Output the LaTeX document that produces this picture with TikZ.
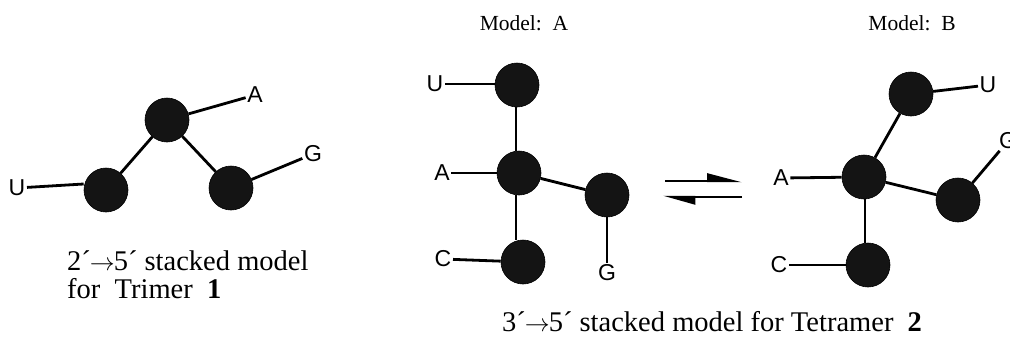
\documentclass[tikz,border=0pt]{standalone}
\usepackage{fontspec}
\setmainfont{Liberation Serif}
\newfontfamily\labelfont{Liberation Sans}
\usetikzlibrary{arrows.meta}
\begin{document}
\begin{tikzpicture}[x=1pt,y=-1pt,
  bead/.style={circle,fill=black!92,draw=black,line width=0.6pt,minimum size=44pt,inner sep=0pt},
  base/.style={font=\labelfont\fontsize{23}{23}\selectfont,inner sep=1.5pt},
  bond/.style={line width=2.8pt},
  captext/.style={font=\fontsize{28.5}{30}\selectfont,align=left,inner sep=0pt},
  mtitle/.style={font=\fontsize{21.5}{22}\selectfont},
  eq/.style={line width=2.4pt}]
\useasboundingbox (0,0) rectangle (1010,338);
% Trimer 1
\node[bead] (t1) at (167,120) {};
\node[bead] (t2) at (106,190) {};
\node[bead] (t3) at (231,188) {};
\node[base] (tA) at (255,95) {A};
\node[base] (tG) at (313,154) {G};
\node[base] (tU) at (17,188) {U};
\draw[bond] (t1) -- (t2);
\draw[bond] (t1) -- (t3);
\draw[bond] (t1) -- (tA);
\draw[bond] (t3) -- (tG);
\draw[bond] (t2.west) ++(0,-6) coordinate (t2w) (tU) -- (t2w);
\node[captext,anchor=base west] (cap1a) at (67,270) {2´\kern-1pt$\rightarrow$\kern-1pt5´ stacked model};
\node[captext,anchor=base west] (cap1b) at (67,298) {for\ \ Trimer\ \ \textbf{1}};
% Model A
\node[mtitle] (mA) at (524,23) {Model:\ \ A};
\node[bead] (aU) at (517,85) {};
\node[bead] (aA) at (519,173) {};
\node[bead] (aG) at (607,195) {};
\node[bead] (aC) at (523,262) {};
\node[base] (lU) at (435,84) {U};
\node[base] (lA) at (442,173) {A};
\node[base] (lC) at (443,259) {C};
\node[base] (lG) at (607,273) {G};
\draw[bond] (lU) -- (aU.west |- lU);
\draw[bond] (lA) -- (aA);
\draw[bond] (lC) -- (aC);
\draw[bond] (aG) -- (lG);
\draw[bond] (aU.south) ++(-1,0) coordinate (aUs) (aUs) -- (aUs |- aA.north);
\draw[bond] (aA.south) ++(-3,0) coordinate (aAs) (aAs) -- (aAs |- aC.north);
\draw[bond] (aA) -- (aG);
% equilibrium arrows
\coordinate (e1) at (665,181);
\coordinate (e2) at (742,181);
\coordinate (e3) at (742,197);
\coordinate (e4) at (663,197);
\draw[eq,-{Triangle[left,length=30pt,width=15pt]}] (e1) -- (e2);
\draw[eq,-{Triangle[left,length=28pt,width=15pt]}] (e3) -- (e4);
% Model B
\node[mtitle] (mB) at (912,23) {Model:\ \ B};
\node[bead] (bU) at (911,94) {};
\node[bead] (bA) at (864,177) {};
\node[bead] (bG) at (958,200) {};
\node[bead] (bC) at (868,265) {};
\node[base] (mU) at (988,85) {U};
\node[base] (mG) at (1008,141) {G};
\node[base] (mA2) at (781,178) {A};
\node[base] (mC) at (779,265) {C};
\draw[bond] (bU) -- (mU);
\draw[bond] (bG) -- (mG);
\draw[bond] (mA2) -- (bA);
\draw[bond] (mC) -- (bC);
\draw[bond] (bU) -- (bA);
\draw[bond] (bA) -- (bG);
\draw[bond] (bA.south) ++(1,0) coordinate (bAs) (bAs) -- (bAs |- bC.north);
\node[captext,anchor=base west] (cap2) at (502,331) {3´\kern-1pt$\rightarrow$\kern-1pt5´ stacked model for Tetramer\ \ \textbf{2}};
\end{tikzpicture}
\end{document}
